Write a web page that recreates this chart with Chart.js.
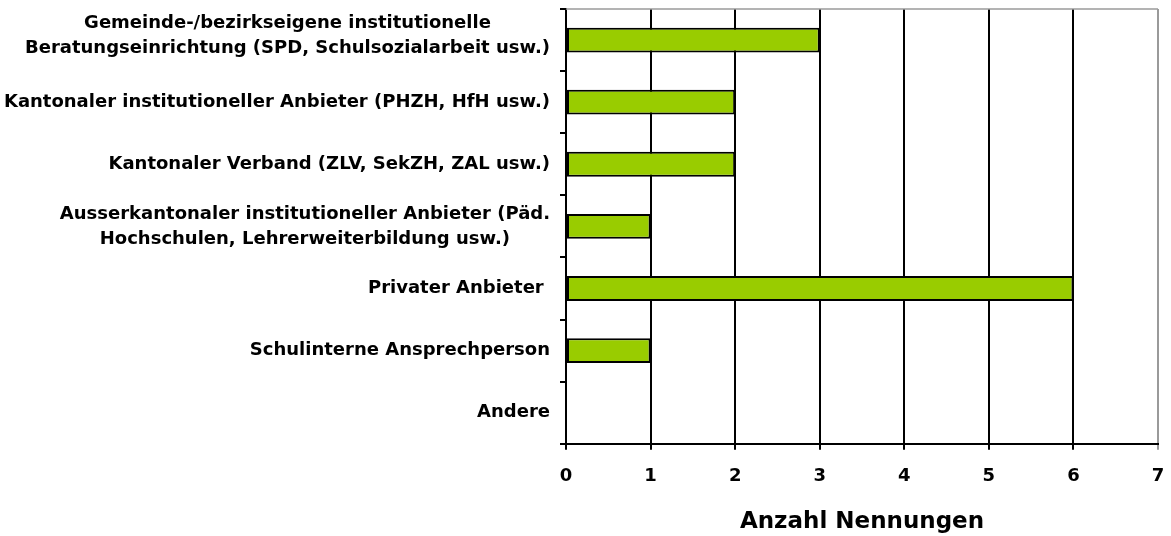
<!DOCTYPE html>
<html>
<head>
<meta charset="utf-8">
<script src="https://cdn.jsdelivr.net/npm/chart.js@4/dist/chart.umd.min.js"></script>
<style>
  html, body { margin: 0; padding: 0; background: #fff; }
  #wrap { width: 1171px; height: 536px; position: relative; }
</style>
</head>
<body>
<div id="wrap"><canvas id="barChart"></canvas></div>
<script>
// categories (multi-line labels) and counts
const categories = [
  ['Gemeinde-/bezirkseigene institutionelle', 'Beratungseinrichtung (SPD, Schulsozialarbeit usw.)'],
  ['Kantonaler institutioneller Anbieter (PHZH, HfH usw.)'],
  ['Kantonaler Verband (ZLV, SekZH, ZAL usw.)'],
  ['Ausserkantonaler institutioneller Anbieter (Päd.', 'Hochschulen, Lehrerweiterbildung usw.)'],
  ['Privater Anbieter '],
  ['Schulinterne Ansprechperson'],
  ['Andere']
];
const counts = [3, 2, 2, 1, 6, 1, 0];
const xTicks = [0, 1, 2, 3, 4, 5, 6, 7];

const FONT = '"DejaVu Sans", sans-serif';

// draws the category labels: lines centred on each other, block right-aligned to the axis
const categoryLabels = {
  id: 'categoryLabels',
  afterDraw(chart) {
    const y = chart.scales.y;
    const ctx = chart.ctx;
    const right = y.right - 16;
    const lh = 25;
    ctx.save();
    ctx.font = 'bold 18px ' + FONT;
    ctx.fillStyle = '#000';
    ctx.textAlign = 'center';
    ctx.textBaseline = 'middle';
    categories.forEach((lines, i) => {
      const cy = y.getPixelForValue(i) - (lines.length > 1 && i === 0 ? 4 : 0);
      const w = Math.max(...lines.map(l => ctx.measureText(l).width));
      const cx = right - w / 2;
      const start = cy - (lines.length - 1) * lh / 2;
      lines.forEach((l, j) => ctx.fillText(l, cx, start + j * lh));
    });
    ctx.restore();
  }
};

// grey frame line on top of the plot area
const topLine = {
  id: 'topLine',
  beforeDatasetsDraw(chart) {
    const a = chart.chartArea;
    const ctx = chart.ctx;
    ctx.save();
    ctx.strokeStyle = '#9a9a9a';
    ctx.lineWidth = 1.5;
    ctx.beginPath();
    ctx.moveTo(a.left, a.top);
    ctx.lineTo(a.right, a.top);
    ctx.stroke();
    ctx.restore();
  }
};

document.addEventListener('DOMContentLoaded', function () {
  const ctx = document.getElementById('barChart');
  new Chart(ctx, {
    type: 'bar',
    data: {
      labels: categories.map(c => c.join(' ')),
      datasets: [{
        label: 'Anzahl Nennungen',
        data: counts,
        backgroundColor: '#99cc00',
        borderColor: '#000',
        borderWidth: 2,
        borderSkipped: false,
        barPercentage: 0.4,
        categoryPercentage: 1
      }]
    },
    options: {
      indexAxis: 'y',
      responsive: true,
      maintainAspectRatio: false,
      animation: false,
      layout: { padding: { top: 9, right: 13, bottom: 0, left: 0 } },
      plugins: {
        legend: { display: false },
        tooltip: { enabled: false }
      },
      scales: {
        x: {
          min: xTicks[0],
          max: xTicks[xTicks.length - 1],
          afterBuildTicks(scale) {
            scale.ticks = xTicks.map(v => ({ value: v }));
          },
          afterFit(scale) {
            scale.paddingLeft = 0;
            scale.paddingRight = 0;
          },
          ticks: {
            color: '#000',
            padding: 16,
            maxRotation: 0,
            font: { family: FONT, size: 18, weight: 'bold' }
          },
          grid: {
            color: c => (c.tick && c.tick.value === 7 ? '#9a9a9a' : '#000'),
            lineWidth: 2,
            tickLength: 6
          },
          border: { color: '#000', width: 2 },
          title: {
            display: true,
            text: 'Anzahl Nennungen',
            color: '#000',
            padding: { top: 5, bottom: 0 },
            font: { family: FONT, size: 23, weight: 'bold' }
          }
        },
        y: {
          afterFit(scale) { scale.width = 566; },
          ticks: { display: false },
          grid: {
            display: true,
            drawOnChartArea: false,
            drawTicks: true,
            offset: true,
            tickLength: 6,
            color: '#000',
            lineWidth: 2
          },
          border: { color: '#000', width: 2 }
        }
      }
    },
    plugins: [categoryLabels, topLine]
  });
});
</script>
</body>
</html>
